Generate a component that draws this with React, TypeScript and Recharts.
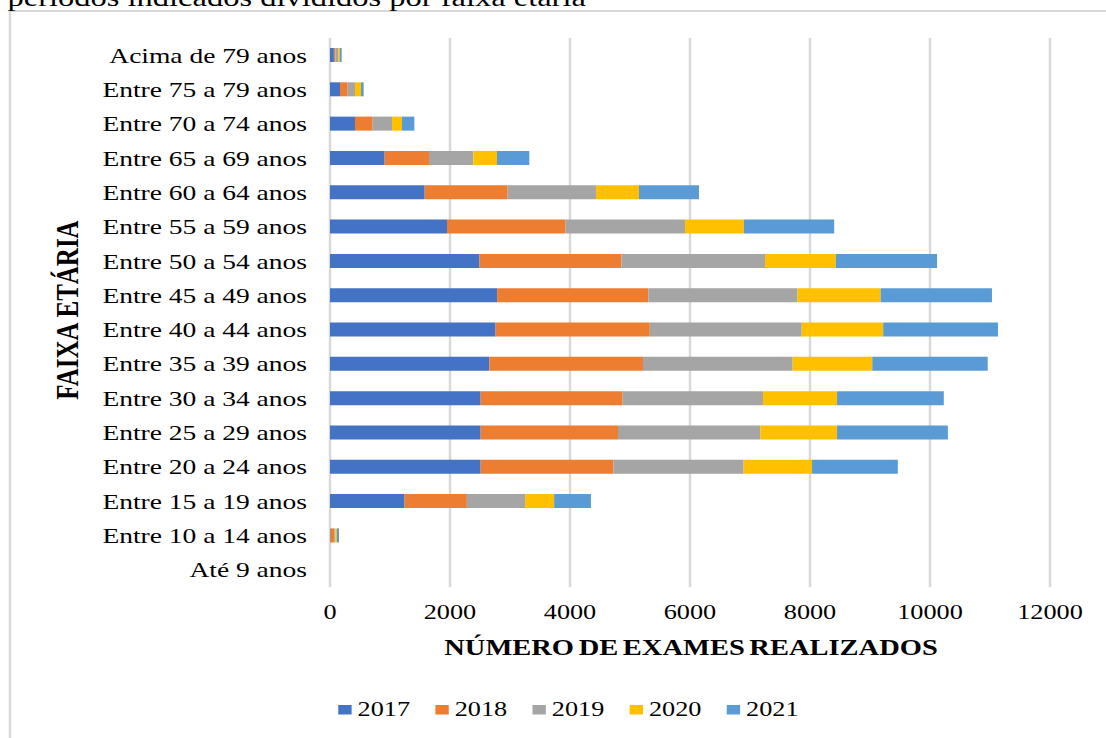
import React from "react";
import { BarChart, Bar, XAxis, YAxis, CartesianGrid } from "recharts";

const categories = [
  "Acima de 79 anos",
  "Entre 75 a 79 anos",
  "Entre 70 a 74 anos",
  "Entre 65 a 69 anos",
  "Entre 60 a 64 anos",
  "Entre 55 a 59 anos",
  "Entre 50 a 54 anos",
  "Entre 45 a 49 anos",
  "Entre 40 a 44 anos",
  "Entre 35 a 39 anos",
  "Entre 30 a 34 anos",
  "Entre 25 a 29 anos",
  "Entre 20 a 24 anos",
  "Entre 15 a 19 anos",
  "Entre 10 a 14 anos",
  "Até 9 anos",
];

const v2017 = [65, 167, 417, 911, 1578, 1950, 2492, 2785, 2760, 2655, 2511, 2511, 2511, 1243, 10, 0];
const v2018 = [25, 128, 294, 739, 1383, 1977, 2366, 2520, 2570, 2562, 2366, 2289, 2212, 1038, 60, 0];
const v2019 = [50, 122, 322, 739, 1472, 1990, 2392, 2487, 2532, 2494, 2340, 2374, 2171, 970, 20, 0];
const v2020 = [25, 100, 167, 394, 717, 981, 1180, 1385, 1358, 1327, 1234, 1277, 1140, 485, 25, 0];
const v2021 = [30, 44, 206, 539, 1000, 1505, 1687, 1856, 1913, 1924, 1779, 1847, 1430, 613, 35, 0];

const seriesNames = ["2017", "2018", "2019", "2020", "2021"];
const seriesColors = ["#4472C4", "#ED7D31", "#A5A5A5", "#FFC000", "#5B9BD5"];
const seriesValues = [v2017, v2018, v2019, v2020, v2021];

const xTicks = [0, 2000, 4000, 6000, 8000, 10000, 12000];

const caption = "períodos indicados divididos por faixa etária";
const xTitle = "NÚMERO DE EXAMES REALIZADOS";
const yTitle = "FAIXA ETÁRIA";

const data = categories.map((c, i) => {
  const row: Record<string, any> = { cat: c };
  seriesNames.forEach((s, k) => {
    row[s] = seriesValues[k][i];
  });
  return row;
});

const SERIF = '"Liberation Serif", "Times New Roman", serif';
const SX = 1.25;
const W = 885;
const H = 738;

const YTick = (props: any) => {
  const { x, y, payload } = props;
  return (
    <text x={x - 18.4} y={y + 7.5} textAnchor="end" fontSize={22} fontFamily={SERIF} fill="#000">
      {payload.value}
    </text>
  );
};

const XTick = (props: any) => {
  const { x, y, payload } = props;
  return (
    <text x={x} y={y + 32} textAnchor="middle" fontSize={21} fontFamily={SERIF} fill="#000">
      {payload.value}
    </text>
  );
};

export default function App() {
  return (
    <div style={{ position: "absolute", left: 0, top: 0, width: 1106, height: H, overflow: "hidden", background: "#fff" }}>
      <div style={{ position: "absolute", left: 0, top: 0, width: W, height: H, transform: `scaleX(${SX})`, transformOrigin: "0 0" }}>
        <div
          style={{
            position: "absolute",
            left: 6.8,
            top: 10,
            width: W + 20,
            height: H + 20,
            borderLeft: "2px solid #d9d9d9",
            borderTop: "2px solid #d9d9d9",
            boxSizing: "border-box",
          }}
        />
        <div style={{ position: "absolute", left: 0, top: 0 }}>
          <BarChart
            width={W}
            height={H}
            data={data}
            layout="vertical"
            margin={{ top: 38, right: 45, left: 0, bottom: 121 }}
            barCategoryGap={0}
          >
            <CartesianGrid horizontal={false} vertical={true} stroke="#d9d9d9" strokeWidth={2} />
            <XAxis
              type="number"
              domain={[0, 12000]}
              ticks={xTicks}
              axisLine={false}
              tickLine={false}
              tickSize={0}
              tickMargin={0}
              height={30}
              tick={<XTick />}
              interval={0}
            />
            <YAxis
              type="category"
              dataKey="cat"
              width={264}
              axisLine={false}
              tickLine={false}
              tickSize={0}
              tickMargin={0}
              tick={<YTick />}
              interval={0}
            />
            {seriesNames.map((s, k) => (
              <Bar key={s} dataKey={s} stackId="a" fill={seriesColors[k]} barSize={14} isAnimationActive={false} />
            ))}
          </BarChart>
        </div>
        <svg width={W} height={H} style={{ position: "absolute", left: 0, top: 0, pointerEvents: "none", overflow: "visible" }}>
          <text x={6} y={6} fontSize={26} fontFamily={SERIF} fill="#000">
            {caption}
          </text>
          <text
            x={552.8}
            y={655}
            textAnchor="middle"
            fontSize={22.8}
            fontWeight="bold"
            fontFamily={SERIF}
            fill="#000"
            style={{ wordSpacing: "-2px" }}
          >
            {xTitle}
          </text>
          <text
            transform="translate(62.6,310) rotate(-90)"
            textAnchor="middle"
            fontSize={25}
            fontWeight="bold"
            fontFamily={SERIF}
            fill="#000"
          >
            {yTitle}
          </text>
          {seriesNames.map((s, k) => {
            const x0 = 270.6 + k * 77.7;
            return (
              <g key={s}>
                <rect x={x0} y={705} width={10.7} height={9.5} fill={seriesColors[k]} />
                <text x={x0 + 15.5} y={716} fontSize={21} fontFamily={SERIF} fill="#000">
                  {s}
                </text>
              </g>
            );
          })}
        </svg>
      </div>
    </div>
  );
}
